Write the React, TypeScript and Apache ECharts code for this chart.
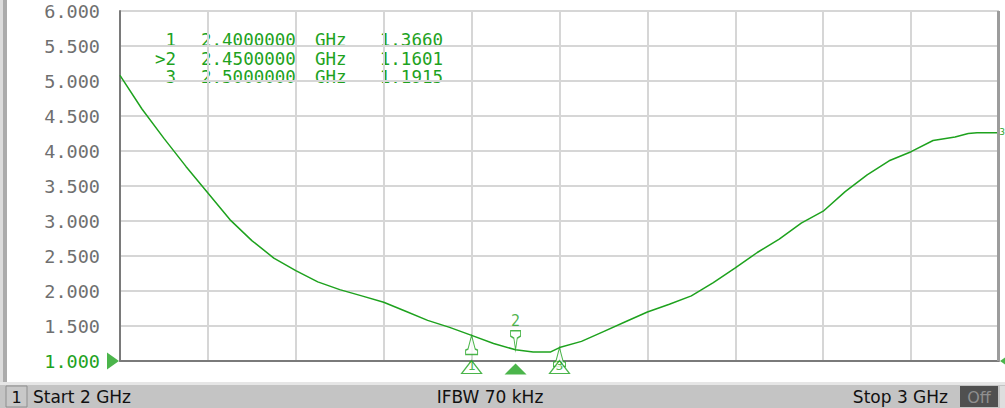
import React, { useEffect, useRef } from "react";
import * as echarts from "echarts";

// Frequency (GHz) and SWR trace values
const freqs = [
  2.0, 2.025, 2.05, 2.075, 2.1, 2.125, 2.15, 2.175, 2.2, 2.225, 2.25, 2.275, 2.3, 2.325, 2.35, 2.375,
  2.4, 2.425, 2.45, 2.47, 2.49, 2.5, 2.525, 2.55, 2.575, 2.6, 2.625, 2.65, 2.675, 2.7, 2.725, 2.75,
  2.775, 2.8, 2.825, 2.85, 2.875, 2.9, 2.925, 2.95, 2.965, 2.975, 3.0,
];
const swr = [
  5.08, 4.6, 4.18, 3.78, 3.4, 3.02, 2.72, 2.47, 2.29, 2.13, 2.02, 1.93, 1.84, 1.71, 1.58, 1.48,
  1.366, 1.25, 1.1601, 1.13, 1.13, 1.1915, 1.28, 1.42, 1.56, 1.7, 1.81, 1.93, 2.12, 2.33, 2.55, 2.74,
  2.97, 3.14, 3.42, 3.66, 3.86, 3.99, 4.15, 4.2, 4.25, 4.26, 4.26,
];

// Markers
const markerIds = ["1", "2", "3"];
const markerFreqs = [2.4, 2.45, 2.5];
const markerVals = [1.366, 1.1601, 1.1915];
const activeMarker = 1;

// Axis settings
const xMin = 2;
const xMax = 3;
const xStep = 0.1;
const yMin = 1;
const yMax = 6;
const yStep = 0.5;

// Status bar texts
const startLabel = "Start 2 GHz";
const ifbwLabel = "IFBW 70 kHz";
const stopLabel = "Stop 3 GHz";

const GREEN = "#1ea21e";
const MONO = "DejaVu Sans Mono";
const SANS = "DejaVu Sans";

export default function App() {
  const ref = useRef<HTMLDivElement>(null);
  useEffect(() => {
    if (!ref.current) return;
    const chart = echarts.init(ref.current, null, { renderer: "svg" });

    const readout: any[] = [];
    const rowY = [40, 58.5, 77];
    markerIds.forEach((id, i) => {
      const common = {
        fontFamily: MONO,
        fontSize: 17.5,
        lineHeight: 17,
        fill: GREEN,
        verticalAlign: "middle",
      };
      readout.push({
        type: "text",
        x: 176,
        y: rowY[i],
        style: { ...common, text: (i === activeMarker ? ">" : "") + id, align: "right" },
      });
      readout.push({
        type: "text",
        x: 201,
        y: rowY[i],
        style: { ...common, text: markerFreqs[i].toFixed(7), align: "left" },
      });
      readout.push({
        type: "text",
        x: 315,
        y: rowY[i],
        style: { ...common, text: "GHz", align: "left" },
      });
      readout.push({
        type: "text",
        x: 443,
        y: rowY[i],
        style: { ...common, text: markerVals[i].toFixed(4), align: "right" },
      });
    });

    const passive = markerIds.map((id, i) => ({ id, i })).filter((m) => m.i !== activeMarker);

    const statusText = (text: string, x: number, align: string) => ({
      type: "text",
      x,
      y: 397,
      style: {
        text,
        fill: "#111111",
        fontFamily: SANS,
        fontSize: 17,
        align,
        verticalAlign: "middle",
      },
      silent: true,
    });

    const option: any = {
      animation: false,
      backgroundColor: "#ffffff",
      grid: {
        left: 120,
        top: 11,
        width: 879,
        height: 350,
        show: true,
        borderColor: "#a0a0a0",
        borderWidth: 1,
        backgroundColor: "#ffffff",
      },
      xAxis: {
        type: "value",
        min: xMin,
        max: xMax,
        interval: xStep,
        axisLabel: { show: false },
        axisTick: { show: false },
        axisLine: { show: true, lineStyle: { color: "#7a7a7a", width: 2 } },
        splitLine: { show: true, lineStyle: { color: "#d6d6d6", width: 2 } },
      },
      yAxis: {
        type: "value",
        min: yMin,
        max: yMax,
        interval: yStep,
        axisTick: { show: false },
        axisLine: { show: true, lineStyle: { color: "#7a7a7a", width: 2 } },
        splitLine: { show: true, lineStyle: { color: "#d6d6d6", width: 2 } },
        axisLabel: {
          margin: 20,
          fontFamily: MONO,
          fontSize: 18.5,
          color: "#6f6f6f",
          formatter: (v: number) => (v === yMin ? "{g|" + v.toFixed(3) + "}" : v.toFixed(3)),
          rich: { g: { color: GREEN, fontFamily: MONO, fontSize: 18.5 } },
        },
      },
      series: [
        {
          type: "line",
          data: freqs.map((f, i) => [f, swr[i]]),
          showSymbol: false,
          lineStyle: { color: GREEN, width: 1.5 },
          itemStyle: { color: GREEN },
          z: 3,
          silent: true,
        },
        // on-trace passive markers (tip at the trace, pointing up)
        {
          type: "scatter",
          clip: false,
          silent: true,
          z: 4,
          symbol: "path://M6 0 L3 13 L1 14 L1 18 L11 18 L11 14 L9 13 Z",
          symbolSize: [12, 19],
          symbolOffset: [0, "50%"],
          itemStyle: { color: "#ffffff", borderColor: GREEN, borderWidth: 1.2 },
          data: passive.map((m) => [markerFreqs[m.i], markerVals[m.i]]),
        },
        // on-trace active marker (tip at the trace, pointing down)
        {
          type: "scatter",
          clip: false,
          silent: true,
          z: 4,
          symbol: "path://M0 0 L12 0 L12 5 L8 7 L6 18 L4 7 L0 5 Z",
          symbolSize: [10, 19],
          symbolOffset: [0, "-50%"],
          itemStyle: { color: "#ffffff", borderColor: GREEN, borderWidth: 1.2 },
          label: {
            show: true,
            position: "top",
            distance: 1,
            formatter: markerIds[activeMarker],
            color: GREEN,
            fontFamily: MONO,
            fontSize: 15,
          },
          data: [[markerFreqs[activeMarker], markerVals[activeMarker]]],
        },
        // bottom passive markers
        {
          type: "scatter",
          clip: false,
          silent: true,
          z: 4,
          symbol: "path://M10 0 L0 14 L20 14 Z",
          symbolSize: [20, 13],
          symbolOffset: [0, 6],
          itemStyle: { color: "#ffffff", borderColor: GREEN, borderWidth: 1.2 },
          label: {
            show: true,
            position: "inside",
            offset: [0, -2],
            formatter: (p: any) => passive[p.dataIndex].id,
            color: GREEN,
            fontFamily: MONO,
            fontSize: 13,
          },
          data: passive.map((m) => [markerFreqs[m.i], yMin]),
        },
        // bottom active marker
        {
          type: "scatter",
          clip: false,
          silent: true,
          z: 4,
          symbol: "triangle",
          symbolSize: [22, 11],
          symbolOffset: [0, 8],
          itemStyle: { color: GREEN },
          data: [[markerFreqs[activeMarker], yMin]],
        },
        // reference level markers
        {
          type: "scatter",
          clip: false,
          silent: true,
          z: 4,
          symbol: "path://M0 0 L12 8 L0 16 Z",
          symbolSize: [12, 17],
          symbolOffset: [-7, 0],
          itemStyle: { color: GREEN },
          data: [[xMin, yMin]],
        },
        {
          type: "scatter",
          clip: false,
          silent: true,
          z: 4,
          symbol: "path://M0 8 L12 0 L12 16 Z",
          symbolSize: [12, 17],
          symbolOffset: [7, 0],
          itemStyle: { color: GREEN },
          data: [[xMax, yMin]],
        },
      ],
      graphic: [
        // left strip
        { type: "rect", shape: { x: 0, y: 0, width: 3, height: 384 }, style: { fill: "#dcdcdc" }, silent: true },
        { type: "rect", shape: { x: 3, y: 0, width: 4, height: 384 }, style: { fill: "#ababab" }, silent: true },
        // right border
        { type: "rect", shape: { x: 997, y: 11, width: 3, height: 350 }, style: { fill: "#9c9c9c" }, z: 10, silent: true },
        // trace end label at the right edge
        {
          type: "text",
          x: 999.6,
          y: 132,
          style: { text: "3", fill: GREEN, fontFamily: MONO, fontSize: 9, verticalAlign: "middle" },
          z: 11,
          silent: true,
        },
        ...readout,
        // status bar
        { type: "rect", shape: { x: 0, y: 382, width: 1005, height: 3 }, style: { fill: "#e6e6e6" }, silent: true },
        { type: "rect", shape: { x: 0, y: 385, width: 1005, height: 23 }, style: { fill: "#c4c4c4" }, silent: true },
        {
          type: "rect",
          shape: { x: 6, y: 386, width: 21, height: 21 },
          style: { fill: "#c8c8c8", stroke: "#8e8e8e", lineWidth: 1 },
          silent: true,
        },
        {
          type: "text",
          x: 16.5,
          y: 397,
          style: { text: "1", fill: "#111111", fontFamily: SANS, fontSize: 16, align: "center", verticalAlign: "middle" },
          silent: true,
        },
        statusText(startLabel, 33, "left"),
        statusText(ifbwLabel, 490, "center"),
        statusText(stopLabel, 948, "right"),
        { type: "rect", shape: { x: 960, y: 386, width: 38, height: 21 }, style: { fill: "#505050" }, silent: true },
        {
          type: "text",
          x: 979,
          y: 397,
          style: { text: "Off", fill: "#8f8f8f", fontFamily: SANS, fontSize: 16, align: "center", verticalAlign: "middle" },
          silent: true,
        },
        { type: "rect", shape: { x: 1000, y: 386, width: 5, height: 22 }, style: { fill: "#dedede" }, silent: true },
      ],
    };

    chart.setOption(option);
    return () => chart.dispose();
  }, []);

  return (
    <div
      ref={ref}
      style={{ position: "fixed", left: 0, top: 0, width: 1005, height: 408, background: "#ffffff" }}
    />
  );
}
